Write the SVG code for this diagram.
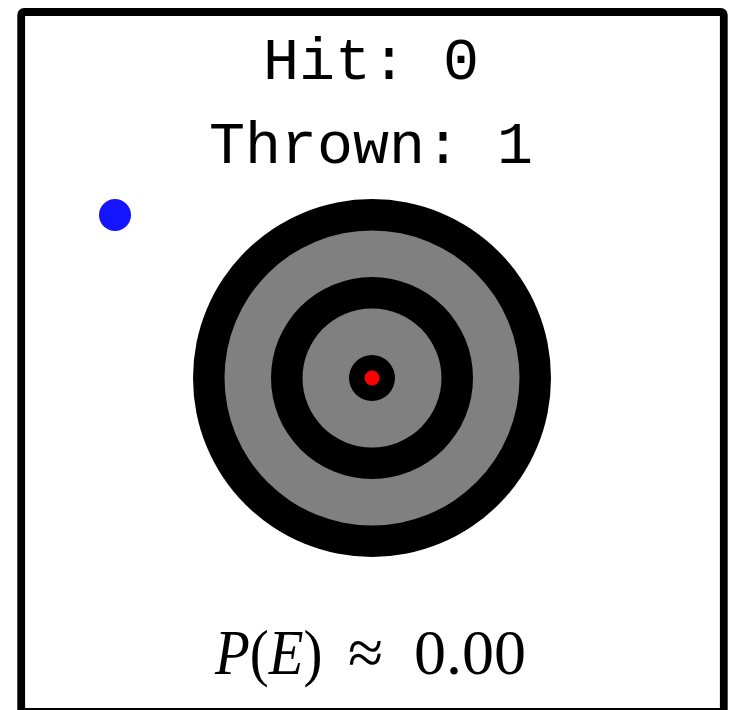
<svg xmlns="http://www.w3.org/2000/svg" width="730" height="710" viewBox="0 0 730 710">
<style>
.mono{font-family:"Liberation Mono","DejaVu Sans Mono",monospace;font-size:60px;fill:#000;text-anchor:middle}
.serif{font-family:"Liberation Serif","DejaVu Serif",serif;font-size:64px;fill:#000}
.blk{fill:#000}
.gry{fill:#808080}
</style>
<rect width="730" height="710" fill="#fff"/>
<rect id="frame" x="21.2" y="12" width="702.6" height="700" rx="3" fill="none" stroke="#000" stroke-width="7.8"/>
<g id="counters">
<text class="mono" x="371" y="79">Hit: 0</text>
<text class="mono" x="371" y="162.7">Thrown: 1</text>
</g>
<g id="dart">
<circle cx="115" cy="215" r="16" fill="#1414ff"/>
</g>
<g id="target">
<circle class="blk" cx="372" cy="378" r="179"/>
<circle class="gry" cx="372" cy="378" r="147.5"/>
<circle class="blk" cx="372" cy="378" r="101"/>
<circle class="gry" cx="372" cy="378" r="69.5"/>
<circle class="blk" cx="372" cy="378" r="23"/>
<circle cx="372" cy="378" r="7.5" fill="#ff0000"/>
</g>
<g id="estimate">
<text class="serif" transform="translate(215,674) scale(0.89,1)" x="0" y="0"><tspan font-style="italic">P</tspan>(<tspan font-style="italic">E</tspan>)</text>
<text class="serif" x="348" y="674">≈</text>
<text class="serif" x="414" y="674">0.00</text>
</g>
</svg>
